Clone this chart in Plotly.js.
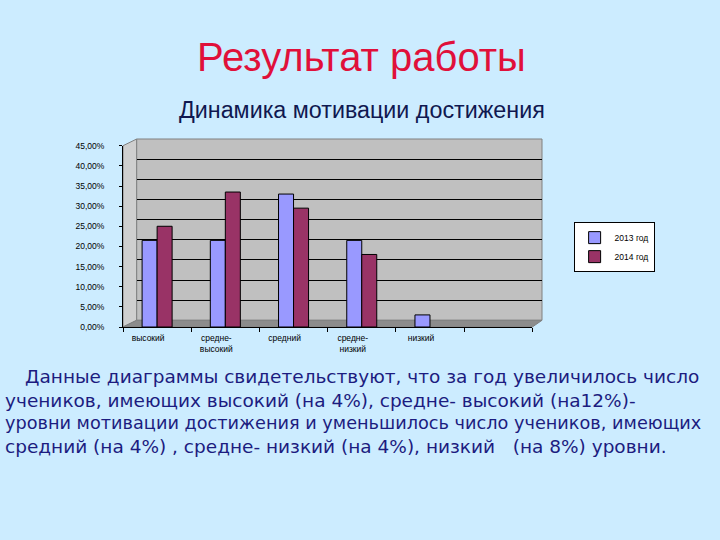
<!DOCTYPE html>
<html>
<head>
<meta charset="utf-8">
<script src="https://cdn.plot.ly/plotly-3.0.1.min.js"></script>
<style>
html,body{margin:0;padding:0;background:#CCECFF;}
#chart{width:720px;height:540px;}
</style>
</head>
<body>
<div id="chart"></div>
<script>
// Data
const categories = ["высокий", "средне-<br>высокий", "средний", "средне-<br>низкий", "низкий", " "];
const series2013 = [21.5, 21.5, 33.0, 21.5, 3.0, null];
const series2014 = [25.0, 33.5, 29.5, 18.0, null, null];
const seriesNames = ["2013 год", "2014 год"];
const yTickVals = [0, 5, 10, 15, 20, 25, 30, 35, 40, 45];
const yTickText = ["0,00%", "5,00%", "10,00%", "15,00%", "20,00%", "25,00%", "30,00%", "35,00%", "40,00%", "45,00%"];
const titleText = "Результат работы";
const subtitleText = "Динамика мотивации достижения";
const bodyLines = [
  "Данные диаграммы свидетельствуют, что за год увеличилось число",
  "учеников, имеющих высокий (на 4%), средне- высокий (на12%)-",
  "уровни мотивации достижения и уменьшилось число учеников, имеющих",
  "средний (на 4%) , средне- низкий (на 4%), низкий &nbsp; (на 8%) уровни."
];

// Layout geometry (pixels)
const L = 123, R = 720 - 541.7, T = 139, B = 540 - 326.7;
const PW = 720 - L - R, PH = 540 - T - B;
const px = v => (v - L) / PW;
const py = v => (540 - B - v) / PH;
const pt = (x, y) => px(x) + "," + py(y);

const tickFont = {family: "Liberation Sans, Arial, sans-serif", size: 8.5, color: "#000"};

const traces = [
  // back wall (grid carrier) on x/y, drawn first
  {type: "bar", x: categories, y: categories.map(() => null), xaxis: "x", yaxis: "y",
   showlegend: false, hoverinfo: "skip"},
  {type: "bar", name: seriesNames[0], x: categories, y: series2013,
   marker: {color: "#9999FF", line: {color: "#000", width: 1}}, xaxis: "x2", yaxis: "y2"},
  {type: "bar", name: seriesNames[1], x: categories, y: series2014,
   marker: {color: "#993366", line: {color: "#000", width: 1}}, xaxis: "x2", yaxis: "y2"}
];

const annotations = [
  {text: titleText, xref: "paper", yref: "paper", x: px(361), y: py(57), xanchor: "center", yanchor: "middle",
   showarrow: false, font: {family: "Liberation Sans, Arial, sans-serif", size: 40, color: "#E0103A"}},
  {text: subtitleText, xref: "paper", yref: "paper", x: px(362), y: py(110), xanchor: "center", yanchor: "middle",
   showarrow: false, font: {family: "Liberation Sans, Arial, sans-serif", size: 23.3, color: "#101850"}}
];
const lineX = [23, 3, 3, 3];
const lineY = [376, 400, 423, 446];
const lineSize = [18.5, 18.5, 17.7, 18.5];
bodyLines.forEach((t, i) => {
  annotations.push({text: t, xref: "paper", yref: "paper", x: px(lineX[i]), y: py(lineY[i]),
    xanchor: "left", yanchor: "middle", showarrow: false,
    font: {family: "DejaVu Sans, sans-serif", size: lineSize[i], color: "#1C1C80"}});
});

const shapes = [
  // left side wall
  {type: "path", xref: "paper", yref: "paper", layer: "below",
   path: "M" + pt(123, 145.7) + "L" + pt(136.7, 139) + "L" + pt(136.7, 320) + "L" + pt(123, 326.7) + "Z",
   fillcolor: "#CFCFCF", line: {color: "#808080", width: 1}},
  // back wall
  {type: "rect", xref: "paper", yref: "paper", layer: "below",
   x0: px(136.7), x1: px(541.7), y0: py(320), y1: py(139),
   fillcolor: "#C0C0C0", line: {color: "#808080", width: 1}},
  // floor
  {type: "path", xref: "paper", yref: "paper", layer: "below",
   path: "M" + pt(123, 326.7) + "L" + pt(136.7, 320) + "L" + pt(541.7, 320) + "L" + pt(532, 326.7) + "Z",
   fillcolor: "#8C8C8C", line: {color: "#808080", width: 1}}
];

const layout = {
  width: 720, height: 540,
  paper_bgcolor: "#CCECFF", plot_bgcolor: "rgba(0,0,0,0)",
  margin: {l: L, r: R, t: T, b: B, pad: 0},
  barmode: "group", bargap: 0.56, bargroupgap: 0,
  showlegend: true,
  legend: {x: px(573.3), y: py(222), xanchor: "left", yanchor: "top",
    bgcolor: "#FFFFFF", bordercolor: "#000", borderwidth: 1,
    font: {family: "Liberation Sans, Arial, sans-serif", size: 8.5, color: "#000"},
    tracegroupgap: 2, itemwidth: 30},
  xaxis: {domain: [px(136.7), 1], anchor: "y", type: "category", categoryarray: categories, categoryorder: "array",
    range: [-0.5, 5.5], showgrid: false, zeroline: false, showticklabels: false, ticks: "", showline: false, fixedrange: true},
  yaxis: {domain: [py(320), 1], anchor: "x", range: [0, 45], tickvals: yTickVals,
    showgrid: true, gridcolor: "#000", gridwidth: 1, zeroline: false, showticklabels: false, ticks: "",
    showline: false, fixedrange: true},
  xaxis2: {domain: [0, px(532)], anchor: "y2", type: "category", categoryarray: categories, categoryorder: "array",
    range: [-0.5, 5.5], showgrid: false, zeroline: false, showline: true, linecolor: "#000", linewidth: 1,
    ticks: "outside", ticklen: 4, tickcolor: "#000", tickson: "boundaries",
    tickfont: tickFont, ticklabelshift: -9, ticklabelstandoff: 3, fixedrange: true},
  yaxis2: {domain: [0, py(145.7)], anchor: "x2", range: [0, 45], tickvals: yTickVals, ticktext: yTickText,
    showgrid: false, zeroline: false, showline: true, linecolor: "#000", linewidth: 1,
    ticks: "outside", ticklen: 3, tickcolor: "#000", tickfont: tickFont, ticklabelstandoff: 13, fixedrange: true},
  shapes: shapes,
  annotations: annotations
};

Plotly.newPlot("chart", traces, layout, {displayModeBar: false, staticPlot: true});
</script>
</body>
</html>
